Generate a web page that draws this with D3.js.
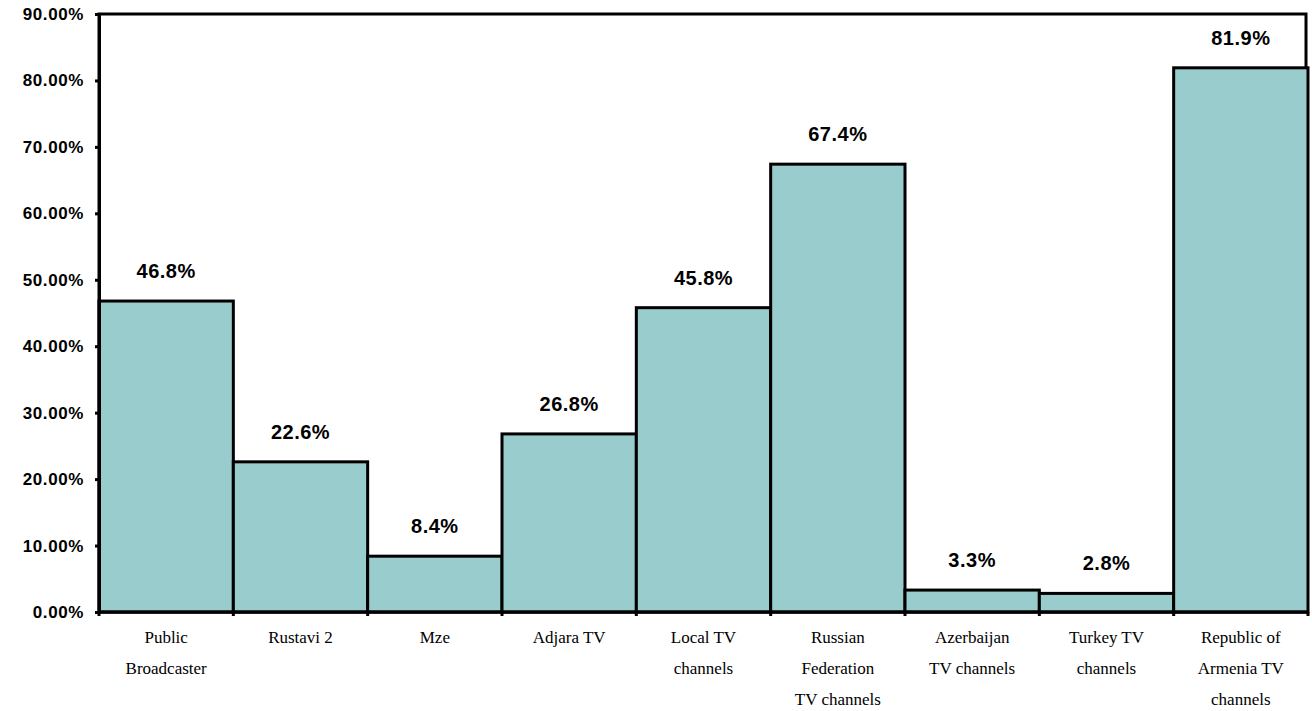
<!DOCTYPE html>
<html>
<head>
<meta charset="utf-8">
<script src="https://d3js.org/d3.v7.min.js"></script>
<style>
  body { margin: 0; background: #fff; }
</style>
</head>
<body>
<div id="chart"></div>
<script>
// data
var categories = [
  ["Public", "Broadcaster"],
  ["Rustavi 2"],
  ["Mze"],
  ["Adjara TV"],
  ["Local TV", "channels"],
  ["Russian", "Federation", "TV channels"],
  ["Azerbaijan", "TV channels"],
  ["Turkey TV", "channels"],
  ["Republic of", "Armenia TV", "channels"]
];
var values = [46.8, 22.6, 8.4, 26.8, 45.8, 67.4, 3.3, 2.8, 81.9];
var yTicks = [0, 10, 20, 30, 40, 50, 60, 70, 80, 90];
var yTickLabels = ["0.00%", "10.00%", "20.00%", "30.00%", "40.00%", "50.00%", "60.00%", "70.00%", "80.00%", "90.00%"];

var width = 1312, height = 711;
var margin = {top: 14, right: 4, bottom: 99, left: 99};

var svg = d3.select("#chart").append("svg")
  .attr("width", width)
  .attr("height", height);

var x = d3.scaleBand()
  .domain(d3.range(categories.length))
  .range([margin.left, width - margin.right])
  .padding(0);

var y = d3.scaleLinear()
  .domain([0, 90])
  .range([height - margin.bottom, margin.top]);

// plot frame
svg.append("rect")
  .attr("x", margin.left)
  .attr("y", margin.top)
  .attr("width", width - margin.left - margin.right - 2)
  .attr("height", y(0) - margin.top)
  .attr("fill", "none")
  .attr("stroke", "black")
  .attr("stroke-width", 3);

// bars
svg.selectAll(".bar")
  .data(values)
  .join("rect")
    .attr("class", "bar")
    .attr("x", function(d, i) { return x(i); })
    .attr("y", function(d) { return y(d); })
    .attr("width", x.bandwidth())
    .attr("height", function(d) { return y(0) - y(d); })
    .attr("fill", "#99CCCC")
    .attr("stroke", "black")
    .attr("stroke-width", 3);

// value labels
svg.selectAll(".val")
  .data(values)
  .join("text")
    .attr("class", "val")
    .attr("x", function(d, i) { return x(i) + x.bandwidth() / 2; })
    .attr("y", function(d) { return y(d) - 23; })
    .attr("text-anchor", "middle")
    .style("font-family", "Liberation Sans, Arial, sans-serif")
    .style("font-weight", "bold")
    .style("font-size", "20px")
    .style("letter-spacing", "0.5px")
    .text(function(d) { return d.toFixed(1) + "%"; });

// y axis
var yAxis = d3.axisLeft(y)
  .tickValues(yTicks)
  .tickSize(4)
  .tickPadding(11)
  .tickFormat(function(d, i) { return yTickLabels[i]; });

var gy = svg.append("g")
  .attr("transform", "translate(" + margin.left + ",0)")
  .call(yAxis);
gy.select(".domain").attr("stroke", "black").attr("stroke-width", 3);
gy.selectAll(".tick line").attr("stroke", "black").attr("stroke-width", 3);
gy.selectAll(".tick text")
  .style("font-family", "Liberation Sans, Arial, sans-serif")
  .style("font-weight", "bold")
  .style("font-size", "17px")
  .style("letter-spacing", "0.6px")
  .attr("fill", "black");

// x axis: ticks at band boundaries
var edges = d3.range(categories.length + 1).map(function(i) {
  return i < categories.length ? x(i) : x(i - 1) + x.bandwidth();
});
svg.append("line")
  .attr("x1", margin.left).attr("x2", width - margin.right)
  .attr("y1", y(0)).attr("y2", y(0))
  .attr("stroke", "black").attr("stroke-width", 3);
svg.selectAll(".xtick")
  .data(edges)
  .join("line")
    .attr("class", "xtick")
    .attr("x1", function(d) { return d; })
    .attr("x2", function(d) { return d; })
    .attr("y1", y(0))
    .attr("y2", y(0) + 4)
    .attr("stroke", "black")
    .attr("stroke-width", 3);

// category labels
var labels = svg.selectAll(".cat")
  .data(categories)
  .join("text")
    .attr("class", "cat")
    .attr("text-anchor", "middle")
    .style("font-family", "Liberation Serif, Times New Roman, serif")
    .style("font-size", "17px")
    .attr("fill", "black");

labels.selectAll("tspan")
  .data(function(d, i) { return d.map(function(t) { return {t: t, i: i}; }); })
  .join("tspan")
    .attr("x", function(d) { return x(d.i) + x.bandwidth() / 2; })
    .attr("y", function(d, j) { return y(0) + 31 + j * 31; })
    .text(function(d) { return d.t; });
</script>
</body>
</html>
